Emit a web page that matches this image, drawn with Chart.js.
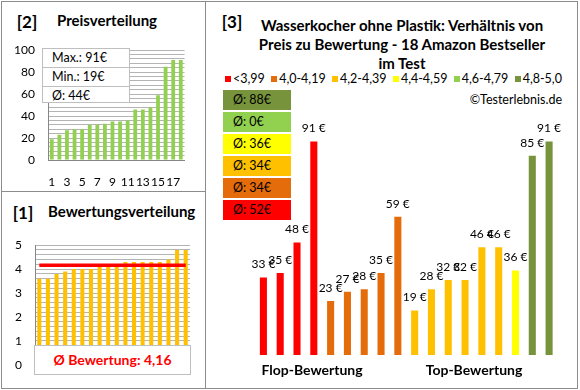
<!DOCTYPE html>
<html>
<head>
<meta charset="utf-8">
<script src="https://cdn.jsdelivr.net/npm/chart.js@4.4.1/dist/chart.umd.min.js"></script>
<style>
  body { margin: 0; background: #fff; }
  #page { position: relative; width: 580px; height: 390px; overflow: hidden; font-family: Lato, "Open Sans", sans-serif; color: #000; }
  canvas { position: absolute; }
  .line { position: absolute; background: #8c8c8c; }
  .c { position: absolute; white-space: nowrap; transform: translate(-50%, -50%); }
  .l { position: absolute; white-space: nowrap; transform: translateY(-50%); }
  .b { font-weight: bold; }
  #stats { position: absolute; left: 42px; top: 48px; width: 88px; height: 55px; box-sizing: border-box; border: 1px solid #bfbfbf; background: #fff; font-size: 12.5px; z-index: 2; }
  #stats div { height: 18px; line-height: 18px; padding-left: 9px; border-top: 1px solid #bfbfbf; }
  #stats div:first-child { border-top: none; }
  #ratingBox { position: absolute; left: 34px; top: 345px; width: 157px; height: 30px; box-sizing: border-box; border: 1px solid #bfbfbf; background: #fff; color: #ff0000; font-weight: bold; font-size: 14px; line-height: 28px; text-align: center; z-index: 2; }
  #legend { position: absolute; left: 225px; top: 71px; width: 337px; height: 14px; display: flex; justify-content: space-between; align-items: center; font-size: 12.5px; }
  #legend span.sw { display: inline-block; width: 6px; height: 6px; margin-right: 2px; vertical-align: 1px; }
  #avgBoxes { position: absolute; left: 223px; top: 90px; width: 68px; }
  #avgBoxes div { height: 20px; line-height: 20px; margin-bottom: 2px; padding-left: 10px; font-size: 12.5px; }
</style>
</head>
<body>
<div id="page">
  <div class="line" style="left:1px; top:1px; width:577px; height:1px"></div>
  <div class="line" style="left:1px; top:388px; width:577px; height:1px"></div>
  <div class="line" style="left:1px; top:1px; width:1px; height:388px"></div>
  <div class="line" style="left:577px; top:1px; width:1px; height:388px"></div>
  <div class="line" style="left:205px; top:1px; width:1px; height:388px"></div>
  <div class="line" style="left:1px; top:191px; width:205px; height:1px"></div>

  <div class="c b" style="left:27px; top:21px; font-size:17px">[2]</div>
  <div class="l b" style="left:57px; top:20px; font-size:15px">Preisverteilung</div>
  <div id="stats"></div>
  <canvas id="priceChart" width="196" height="160" style="left:0; top:30px"></canvas>

  <div class="c b" style="left:23px; top:212px; font-size:17px">[1]</div>
  <div class="l b" style="left:48px; top:211px; font-size:15px">Bewertungsverteilung</div>
  <canvas id="ratingChart" width="196" height="160" style="left:0; top:225px"></canvas>
  <div id="ratingBox"></div>

  <div class="c b" style="left:232px; top:21px; font-size:17px">[3]</div>
  <div class="b" style="position:absolute; left:402px; top:16px; transform:translateX(-50%); white-space:nowrap; text-align:center; font-size:15px; line-height:19px">Wasserkocher ohne Plastik: Verhältnis von<br>Preis zu Bewertung - 18 Amazon Bestseller<br>im Test</div>
  <div id="legend"></div>
  <div class="l" style="right:18px; top:99px; font-size:12.5px">©Testerlebnis.de</div>
  <div id="avgBoxes"></div>
  <canvas id="testChart" width="371" height="287" style="left:206px; top:100px"></canvas>
  <div class="c b" style="left:312px; top:369px; font-size:14px">Flop-Bewertung</div>
  <div class="c b" style="left:474px; top:369px; font-size:14px">Top-Bewertung</div>
</div>

<script>
const rankLabels    = ["1", "2", "3", "4", "5", "6", "7", "8", "9", "10", "11", "12", "13", "14", "15", "16", "17", "18"]
const sortedPrices  = [19, 23, 27, 28, 28, 32, 32, 33, 35, 35, 36, 46, 46, 48, 59, 85, 91, 91]
const priceTicks    = [0, 20, 40, 60, 80, 100]
const priceStats    = ["Max.: 91€", "Min.: 19€", "Ø: 44€"]

const sortedRatings = [3.6, 3.6, 3.8, 3.9, 4.0, 4.0, 4.0, 4.1, 4.1, 4.2, 4.3, 4.3, 4.3, 4.3, 4.3, 4.4, 4.8, 4.8]
const ratingTicks   = [0, 1, 2, 3, 4, 5]
const avgRating     = 4.16

const groupLabels   = ["<3,99", "4,0-4,19", "4,2-4,39", "4,4-4,59", "4,6-4,79", "4,8-5,0"]
const groupColors   = ["#FF0000", "#E46C0A", "#FFC000", "#FFFF00", "#92D050", "#77933C"]
const groupAverages = [52, 34, 34, 36, 0, 88]

const testPrices    = [33, 35, 48, 91, 23, 27, 28, 35, 59, 19, 28, 32, 32, 46, 46, 36, 85, 91]
const testGroups    = [0, 0, 0, 0, 1, 1, 1, 1, 1, 2, 2, 2, 2, 2, 2, 3, 5, 5]

const GRID = "#b4b4b4"
const AXIS = "#868686"
const tickFont = { family: "Lato", size: 12 }

document.getElementById("stats").innerHTML = priceStats.map(s => `<div>${s}</div>`).join("")
document.getElementById("ratingBox").textContent = `Ø Bewertung: ${avgRating.toFixed(2).replace(".", ",")}`
document.getElementById("legend").innerHTML = groupLabels.map((g, i) =>
  `<span><span class="sw" style="background:${groupColors[i]}"></span>${g.replace("<", "&lt;")}</span>`).join("")
document.getElementById("avgBoxes").innerHTML = groupAverages.map((a, i) =>
  `<div style="background:${groupColors[i]}">Ø: ${a}€</div>`).reverse().join("")

const isOn = (ticks, v) => ticks.some(t => Math.abs(t - v) < 1e-6)

new Chart(document.getElementById("priceChart"), {
  type: "bar",
  data: {
    labels: rankLabels,
    datasets: [{ data: sortedPrices, backgroundColor: "#92D050", barPercentage: 0.5, categoryPercentage: 1 }],
  },
  options: {
    responsive: false,
    animation: false,
    layout: { padding: { top: 17, right: 8, left: 0, bottom: 0 } },
    plugins: { legend: { display: false }, tooltip: { enabled: false } },
    scales: {
      x: {
        grid:   { display: false, drawTicks: false },
        border: { color: AXIS },
        ticks:  { autoSkip: false, maxRotation: 0, padding: 15, color: "#000", font: tickFont,
                  callback: (v, i) => i % 2 === 0 ? rankLabels[i] : "" },
        afterFit: s => { s.height = 30 },
      },
      y: {
        min: 0, max: 100,
        grid:   { color: GRID, drawTicks: false },
        border: { color: AXIS },
        ticks:  { stepSize: 4, autoSkip: false, padding: 13, color: "#000", font: tickFont,
                  callback: v => isOn(priceTicks, v) ? Math.round(v) : "" },
        afterFit: s => { s.width = 48 },
      },
    },
  },
})

new Chart(document.getElementById("ratingChart"), {
  type: "bar",
  data: {
    labels: rankLabels,
    datasets: [
      { type: "line", data: rankLabels.map(() => avgRating), borderColor: "#FF0000", borderWidth: 3.5,
        pointRadius: 0, order: 0 },
      { data: sortedRatings, backgroundColor: "#FFC000", barPercentage: 0.47, categoryPercentage: 1, order: 1 },
    ],
  },
  options: {
    responsive: false,
    animation: false,
    layout: { padding: { top: 14, right: 6, left: 0, bottom: 13 } },
    plugins: { legend: { display: false }, tooltip: { enabled: false } },
    scales: {
      x: { display: false },
      y: {
        min: 0, max: 5,
        grid:   { color: c => c.tick && c.tick.value === 0 ? AXIS : GRID, drawTicks: false },
        border: { color: AXIS },
        ticks:  { stepSize: 0.2, autoSkip: false, padding: 13, color: "#000", font: tickFont,
                  callback: v => isOn(ratingTicks, v) ? Math.round(v) : "" },
        afterFit: s => { s.width = 35 },
      },
    },
  },
})

const valueLabels = {
  id: "valueLabels",
  afterDatasetsDraw(chart) {
    const { ctx } = chart
    const meta = chart.getDatasetMeta(0)
    ctx.save()
    ctx.font = "12px Lato"
    ctx.fillStyle = "#000"
    ctx.textAlign = "center"
    ctx.textBaseline = "middle"
    meta.data.forEach((bar, i) => ctx.fillText(`${testPrices[i]} €`, bar.x, bar.y - 13))
    ctx.restore()
  },
}

new Chart(document.getElementById("testChart"), {
  type: "bar",
  data: {
    labels: rankLabels,
    datasets: [{
      data: testPrices,
      backgroundColor: testGroups.map(g => groupColors[g]),
      barPercentage: 0.42,
      categoryPercentage: 1,
    }],
  },
  options: {
    responsive: false,
    animation: false,
    layout: { padding: { top: 20.5, right: 19.5, left: 49, bottom: 32 } },
    plugins: { legend: { display: false }, tooltip: { enabled: false } },
    scales: {
      x: { display: false },
      y: { display: false, min: 0, max: 100 },
    },
  },
  plugins: [valueLabels],
})
</script>
</body>
</html>
